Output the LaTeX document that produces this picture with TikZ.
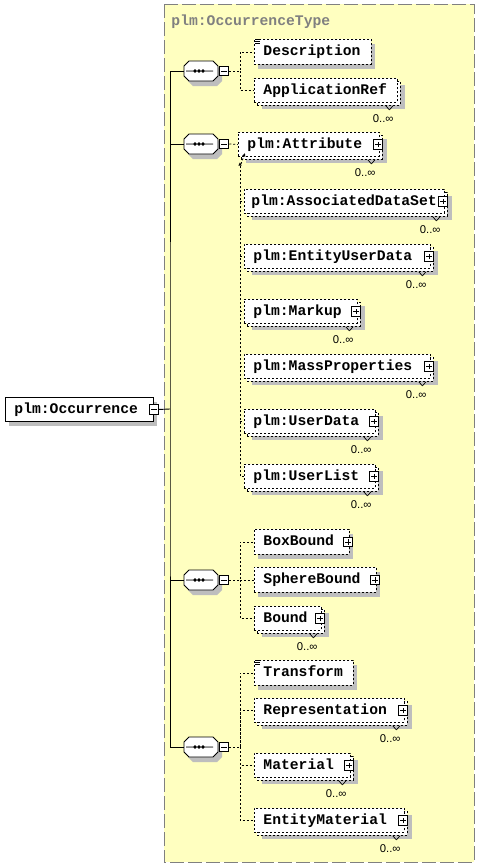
\documentclass[tikz,border=0pt]{standalone}
\usepackage{fontspec}
\usetikzlibrary{arrows.meta, positioning, shadows}
\newfontfamily\xsdfont{Liberation Mono}
\newfontfamily\cntfont{Liberation Sans}
\definecolor{ctbg}{RGB}{255,255,192}
\definecolor{shd}{RGB}{190,190,190}
\definecolor{frm}{RGB}{128,128,128}

\begin{document}
\begin{tikzpicture}[
        x=1pt, y=-1pt, line width=.9pt,
        ctype/.style    = {draw=frm, fill=ctbg, dash pattern=on 14pt off 4pt},
        ttl/.style      = {font=\xsdfont\bfseries\fontsize{14.7}{16}\selectfont, text=frm, inner sep=0pt, anchor=base west},
        elbox/.style    = {draw, dash pattern=on 2pt off 2pt, fill=white, font=\xsdfont\bfseries\fontsize{14.7}{16}\selectfont,
                           anchor=north west, align=left, inner xsep=9pt, inner ysep=0pt, text height=10pt, text depth=2pt},
        one/.style      = {elbox, minimum height=25pt, drop shadow={shadow xshift=4pt, shadow yshift=-5pt, opacity=1, fill=shd}},
        many/.style     = {elbox, minimum height=24pt,
                           drop shadow={shadow xshift=8pt, shadow yshift=-7pt, opacity=1, fill=shd},
                           copy shadow={shadow xshift=3pt, shadow yshift=-3pt, draw=black, fill=white, dash pattern=on 2pt off 2pt},
                           append after command={([xshift=-12pt, yshift=-3pt]\tikzlastnode.south east) edge[notch] ([xshift=-8.5pt, yshift=-7pt]\tikzlastnode.south east)
                                                 ([xshift=-5pt, yshift=-3pt]\tikzlastnode.south east) edge[notch] ([xshift=-8.5pt, yshift=-7pt]\tikzlastnode.south east)}},
        rootel/.style   = {one, solid, minimum height=24pt},
        doc/.style      = {append after command={([xshift=1pt, yshift=-.6pt]\tikzlastnode.north west) edge[notch] ([xshift=6pt, yshift=-.6pt]\tikzlastnode.north west)
                                                 ([xshift=1pt, yshift=-2.3pt]\tikzlastnode.north west) edge[notch] ([xshift=6pt, yshift=-2.3pt]\tikzlastnode.north west)
                                                 ([xshift=1pt, yshift=-4pt]\tikzlastnode.north west) edge[notch] ([xshift=6pt, yshift=-4pt]\tikzlastnode.north west)}},
        notch/.style    = {solid, line width=.7pt},
        % sequence compositor: octagon with the three dots
        octa/.style     = {draw, solid, fill=white, preaction={draw=none, fill=shd, transform canvas={shift={(4pt,-5pt)}}},
                           to path={([xshift=-17pt, yshift=5pt]\tikztostart) -- ([xshift=-12pt, yshift=10pt]\tikztostart)
                                    -- ([xshift=12pt, yshift=10pt]\tikztostart) -- ([xshift=17pt, yshift=5pt]\tikztostart)
                                    -- ([xshift=17pt, yshift=-5pt]\tikztostart) -- ([xshift=12pt, yshift=-10pt]\tikztostart)
                                    -- ([xshift=-12pt, yshift=-10pt]\tikztostart) -- ([xshift=-17pt, yshift=-5pt]\tikztostart) -- cycle}},
        dots/.style     = {draw, solid, fill=black, line width=.8pt,
                           to path={([xshift=-15pt]\tikztostart) -- ([xshift=12pt]\tikztostart)
                                    ([xshift=-6pt]\tikztostart) circle[radius=1.3pt] ([xshift=-2pt]\tikztostart) circle[radius=1.3pt]
                                    ([xshift=2pt]\tikztostart) circle[radius=1.3pt]}},
        seqc/.style     = {minimum width=34pt, minimum height=20pt, inner sep=0pt,
                           append after command={(\tikzlastnode.center) edge[octa] (\tikzlastnode.center)
                                                 (\tikzlastnode.center) edge[dots] (\tikzlastnode.center)}},
        pm/.style       = {draw, solid, fill=white, minimum size=9.5pt, inner sep=0pt, line width=.8pt},
        minusbox/.style = {pm, path picture={\draw ([xshift=2pt]path picture bounding box.west) -- ([xshift=-2pt]path picture bounding box.east);}},
        plusbox/.style  = {pm, path picture={\draw ([xshift=2pt]path picture bounding box.west) -- ([xshift=-2pt]path picture bounding box.east)
                                                   ([yshift=2pt]path picture bounding box.south) -- ([yshift=-2pt]path picture bounding box.north);}},
        cnt/.style      = {font=\cntfont\fontsize{11.3}{13}\selectfont, inner sep=0pt},
        dl/.style       = {dash pattern=on 2pt off 2pt, line width=.8pt},
        ar/.style       = {-{Latex[length=3.5pt, width=3.5pt]}}
    ]
        \useasboundingbox (0,0) rectangle (479,868);
        \draw[ctype] (164,4) rectangle (474,862);
        \node[ttl] (ctname) at (171,25.5) {plm:OccurrenceType};

        % root element
        \node[rootel, text width=130pt] (occ) at (5,397) {plm:Occurrence};
        \node[minusbox] (occm) at (occ.east) {};
        \coordinate (tk) at (170,409);

        % sequences
        \node[seqc] (s1) at (201,71)  {};
        \node[seqc] (s2) at (201,144) {};
        \node[seqc] (s3) at (201,580) {};
        \node[seqc] (s4) at (201,747) {};
        \node[minusbox, right=0.5pt of s1] (s1m) {};
        \node[minusbox, right=0.5pt of s2] (s2m) {};
        \node[minusbox, right=0.5pt of s3] (s3m) {};
        \node[minusbox, right=0.5pt of s4] (s4m) {};

        \node[one, doc, text width=99pt] (desc)   at (254,39) {Description};
        \node[many, text width=125pt]    (appref) at (254,78) {ApplicationRef};

        \node[many, text width=123pt]                (attr)   at (238,132) {plm:Attribute};
        \node[many, text width=186pt, inner xsep=7pt] (assoc) at (244,189) {plm:AssociatedDataSet};
        \node[many, text width=168pt]                (eud)    at (244,244) {plm:EntityUserData};
        \node[many, text width=95pt]                 (markup) at (244,299) {plm:Markup};
        \node[many, text width=168pt]                (mass)   at (244,354) {plm:MassProperties};
        \node[many, text width=113pt]                (udata)  at (244,409) {plm:UserData};
        \node[many, text width=113pt]                (ulist)  at (244,464) {plm:UserList};

        \node[one, text width=77pt]   (bbox)   at (254,529) {BoxBound};
        \node[one, text width=104pt]  (sbound) at (254,567) {SphereBound};
        \node[many, text width=49pt]  (bound)  at (254,606) {Bound};

        \node[one, doc, text width=81pt] (transf) at (254,660) {Transform};
        \node[many, text width=132pt]    (repr)   at (254,698) {Representation};
        \node[many, text width=78pt]     (mat)    at (254,753) {Material};
        \node[many, text width=132pt]    (emat)   at (254,808) {EntityMaterial};

        % expand boxes
        \node[plusbox] (attrp)   at ([xshift=-2pt]attr.east)   {};
        \node[plusbox] (assocp)  at ([xshift=-2pt]assoc.east)  {};
        \node[plusbox] (eudp)    at ([xshift=-2pt]eud.east)    {};
        \node[plusbox] (markupp) at ([xshift=-2pt]markup.east) {};
        \node[plusbox] (massp)   at ([xshift=-2pt]mass.east)   {};
        \node[plusbox] (udatap)  at ([xshift=-2pt]udata.east)  {};
        \node[plusbox] (ulistp)  at ([xshift=-2pt]ulist.east)  {};
        \node[plusbox] (bboxp)   at ([xshift=-2pt]bbox.east)   {};
        \node[plusbox] (sboundp) at ([xshift=-2pt]sbound.east) {};
        \node[plusbox] (boundp)  at ([xshift=-2pt]bound.east)  {};
        \node[plusbox] (reprp)   at ([xshift=-2pt]repr.east)   {};
        \node[plusbox] (matp)    at ([xshift=-2pt]mat.east)    {};
        \node[plusbox] (ematp)   at ([xshift=-2pt]emat.east)   {};

        % occurrence counts
        \node[cnt, below left=11pt and 4pt of appref.south east] (apprefn) {0..∞};
        \node[cnt, below left=11pt and 4pt of attr.south east]   (attrn)   {0..∞};
        \node[cnt, below left=11pt and 4pt of assoc.south east]  (assocn)  {0..∞};
        \node[cnt, below left=11pt and 4pt of eud.south east]    (eudn)    {0..∞};
        \node[cnt, below left=11pt and 4pt of markup.south east] (markupn) {0..∞};
        \node[cnt, below left=11pt and 4pt of mass.south east]   (massn)   {0..∞};
        \node[cnt, below left=11pt and 4pt of udata.south east]  (udatan)  {0..∞};
        \node[cnt, below left=11pt and 4pt of ulist.south east]  (ulistn)  {0..∞};
        \node[cnt, below left=11pt and 4pt of bound.south east]  (boundn)  {0..∞};
        \node[cnt, below left=11pt and 4pt of repr.south east]   (reprn)   {0..∞};
        \node[cnt, below left=11pt and 4pt of mat.south east]    (matn)    {0..∞};
        \node[cnt, below left=11pt and 4pt of emat.south east]   (ematn)   {0..∞};

        % trunk
        \draw (occm.east) -- (tk);
        \draw (s1.west) -| (tk) |- (s4.west);
        \draw (s2.west -| tk) -- (s2.west);
        \draw (s3.west -| tk) -- (s3.west);

        % branches
        \coordinate (b1) at (240,71);
        \draw[dl] (s1m.east) -- (b1) |- (desc.west);
        \draw[dl] (b1) |- (appref.west);

        \coordinate (b2) at (240,162);
        \draw[dl] (s2m.east) -- (attr.west);
        \draw[dl, ar] (ulist.west) -| (b2);
        \draw[dl, ar] ([xshift=1pt, yshift=-2pt]b2) -- ([xshift=7pt, yshift=4pt]attr.south west);
        \draw[dl] (b2 |- assoc.west)  -- (assoc.west);
        \draw[dl] (b2 |- eud.west)    -- (eud.west);
        \draw[dl] (b2 |- markup.west) -- (markup.west);
        \draw[dl] (b2 |- mass.west)   -- (mass.west);
        \draw[dl] (b2 |- udata.west)  -- (udata.west);

        \coordinate (b3) at (240,580);
        \draw[dl] (s3m.east) -- (b3) |- (bbox.west);
        \draw[dl] (b3) |- (sbound.west);
        \draw[dl] (b3) |- (bound.west);

        \coordinate (b4) at (240,747);
        \draw[dl] (s4m.east) -- (b4) |- (transf.west);
        \draw[dl] (b4) |- (repr.west);
        \draw[dl] (b4) |- (mat.west);
        \draw[dl] (b4) |- (emat.west);
    \end{tikzpicture}
\end{document}
